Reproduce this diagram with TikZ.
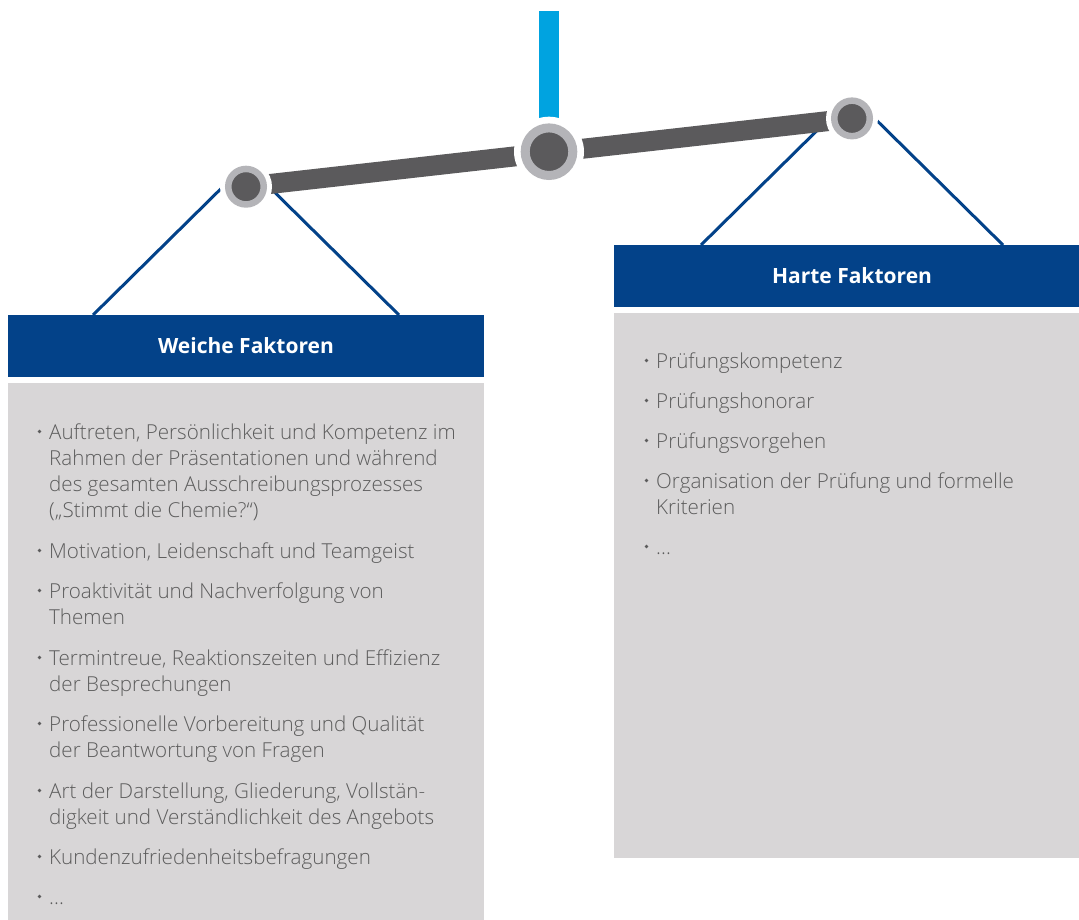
\documentclass[tikz,border=0pt]{standalone}
\usepackage{fontspec}
\newfontfamily\bodyfont{Open Sans Light}
\newfontfamily\headfont{Open Sans}
\usetikzlibrary{calc}

\definecolor{navy}{RGB}{3,66,137}
\definecolor{cyanbar}{RGB}{0,163,224}
\definecolor{beamgray}{RGB}{91,90,92}
\definecolor{ringgray}{RGB}{180,180,184}
\definecolor{panel}{RGB}{216,214,215}
\definecolor{bodytext}{RGB}{92,92,92}

% lines of one bullet point, the first line carrying the baseline
\newcommand\pointlines[1]{\begin{tabular}[t]{@{}l@{}}#1\end{tabular}}

\tikzset{
  header/.style={fill=navy, text=white, inner sep=0pt, minimum height=61.7pt,
    font=\headfont\bfseries\fontsize{21}{25}\selectfont},
  panelbox/.style={fill=panel, inner sep=0pt},
  point/.style={anchor=base west, inner sep=0pt, text=bodytext,
    font=\bodyfont\fontsize{20.6}{26.1}\selectfont},
  bdot/.style={circle, fill=bodytext, inner sep=0pt, minimum size=3.8pt},
  halo/.style={circle, fill=white, inner sep=0pt},
  pivot/.style={circle, fill=beamgray, draw=ringgray, inner sep=0pt},
  smallpivot/.style={pivot, line width=6.5pt, minimum size=35.5pt},
  bigpivot/.style={pivot, line width=9pt, minimum size=47.6pt},
  string/.style={draw=navy, line width=3pt},
  beam/.style={draw=beamgray, line width=20pt},
  hanger/.style={draw=cyanbar, line width=20pt},
}

\begin{document}
\begin{tikzpicture}[x=1pt, y=-1pt]
\useasboundingbox (0,0) rectangle (1079,920);

% panels
\node[header, minimum width=476pt] (whead) at (246,345.85) {Weiche Faktoren};
\node[panelbox, minimum width=476pt, minimum height=560pt] (wbody) at (246,662.7) {};
\node[header, minimum width=476pt] (hhead) at (852,275.85) {Harte Faktoren};
\node[panelbox, minimum width=476pt, minimum height=545pt] (hbody) at (852,585.2) {};

% scale geometry
\coordinate (lpc) at (246,186.7);
\coordinate (rpc) at (852,118.4);
\coordinate (cpc) at (549,151.7);
\coordinate (top) at (549,11);
\coordinate (la) at (246,164);
\coordinate (ra) at (852,96);
\coordinate (wsl) at (93,315);
\coordinate (wsr) at (399,315);
\coordinate (hsl) at (701,245);
\coordinate (hsr) at (1003,245);

% strings of the pans
\draw[string] (wsl) -- (la);
\draw[string] (la) -- (wsr);
\draw[string] (hsl) -- (ra);
\draw[string] (ra) -- (hsr);

% hanger and beam
\draw[hanger] (top) -- (cpc);
\draw[beam] (lpc) -- (rpc);

% pivots with white gaps
\node[halo, minimum size=52pt] (lph) at (lpc) {};
\node[halo, minimum size=52pt] (rph) at (rpc) {};
\node[halo, minimum size=70pt] (cph) at (cpc) {};
\node[smallpivot] (lp) at (lpc) {};
\node[smallpivot] (rp) at (rpc) {};
\node[bigpivot] (cp) at (cpc) {};

% soft factors
\node[point] (w1) at (49,439) {\pointlines{Auftreten, Persönlichkeit und Kompetenz im\\Rahmen der Präsentationen und während\\des gesamten Ausschreibungsprozesses\\(„Stimmt die Chemie?“)}};
\node[point] (w2) at (49,558) {Motivation, Leidenschaft und Teamgeist};
\node[point] (w3) at (49,598) {\pointlines{Proaktivität und Nachverfolgung von\\Themen}};
\node[point] (w4) at (49,665) {\pointlines{Termintreue, Reaktionszeiten und Effizienz\\der Besprechungen}};
\node[point] (w5) at (49,731) {\pointlines{Professionelle Vorbereitung und Qualität\\der Beantwortung von Fragen}};
\node[point] (w6) at (49,798) {\pointlines{Art der Darstellung, Gliederung, Vollstän-\\digkeit und Verständlichkeit des Angebots}};
\node[point] (w7) at (49,864) {Kundenzufriedenheitsbefragungen};
\node[point] (w8) at (49,904) {...};

% hard factors
\node[point] (h1) at (656,368) {Prüfungskompetenz};
\node[point] (h2) at (656,408) {Prüfungshonorar};
\node[point] (h3) at (656,448) {Prüfungsvorgehen};
\node[point] (h4) at (656,488) {\pointlines{Organisation der Prüfung und formelle\\Kriterien}};
\node[point] (h5) at (656,554) {...};

\foreach \n in {w1,w2,w3,w4,w5,w6,w7,w8,h1,h2,h3,h4,h5}
  \node[bdot] at ($(\n.base west)+(-9.5,-7.5)$) {};
\end{tikzpicture}
\end{document}
